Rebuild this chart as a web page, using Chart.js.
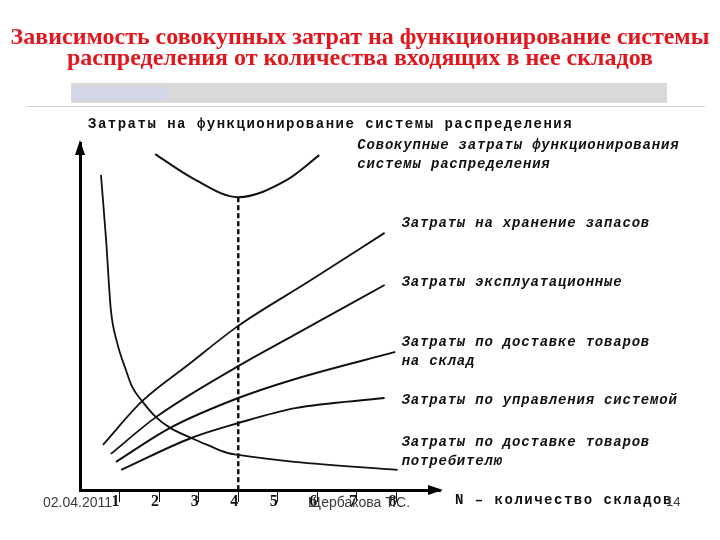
<!DOCTYPE html>
<html>
<head>
<meta charset="utf-8">
<script src="https://cdn.jsdelivr.net/npm/chart.js@4.4.0/dist/chart.umd.min.js"></script>
<style>
  html, body { margin: 0; padding: 0; background: #fff; }
  #slide { position: relative; width: 720px; height: 540px; overflow: hidden; }
  #title { position: absolute; left: 0; top: 26px; width: 720px; text-align: center;
           font: bold 24px/21px "Liberation Serif", "Times New Roman", serif; color: #e3161d; z-index: 2; }
  #bar { position: absolute; left: 71px; top: 83px; width: 596px; height: 20px; background: #d9d9d9; }
  #bar span { position: absolute; left: 2px; top: 3px; width: 93px; height: 14px; background: #d3d6e6; }
  #rule { position: absolute; left: 27px; top: 106px; width: 678px; height: 1px; background: #cfcfcf; }
  #chart { position: absolute; left: 0; top: 0; z-index: 1; }
  .foot { position: absolute; font: 14px "Liberation Sans", Arial, sans-serif; color: #3a3a3a; z-index: 3; }
</style>
</head>
<body>
<div id="slide">
  <div id="title">Зависимость совокупных затрат на функционирование системы<br>распределения от количества входящих в нее складов</div>
  <div id="bar"><span></span></div>
  <div id="rule"></div>
  <canvas id="chart" width="720" height="540"></canvas>
  <div class="foot" style="left:43px; top:494px;">02.04.2011</div>
  <div class="foot" style="left:308px; top:494px;">Щербакова Т.С.</div>
  <div class="foot" style="left:666px; top:494px; font-size:13px;">14</div>
</div>
<script>
  // N — number of warehouses (x), costs in relative units (y)
  var xTicks = [1, 2, 3, 4, 5, 6, 7, 8];

  var totalX = [1.90, 2.84, 4.0, 5.22, 6.05];
  var totalY = [96.8, 89.9, 84.4, 89.3, 96.5];

  var storageX = [0.58, 1.57, 2.76, 4.0, 5.80, 7.70];
  var storageY = [13.0, 25.6, 36.3, 47.3, 60.2, 74.1];

  var operatingX = [0.78, 1.92, 4.0, 5.42, 7.70];
  var operatingY = [10.4, 21.0, 35.7, 44.7, 59.1];

  var inboundX = [0.91, 2.28, 4.0, 5.44, 7.97];
  var inboundY = [8.1, 17.9, 26.5, 32.0, 39.8];

  var managementX = [1.04, 2.81, 4.0, 5.44, 7.70];
  var managementY = [5.8, 15.0, 19.3, 23.6, 26.5];

  var outboundX = [0.53, 0.66, 0.78, 0.94, 1.16, 1.32, 1.57, 1.92, 2.28, 2.81, 3.22, 3.72, 4.0, 5.42, 8.03];
  var outboundY = [90.8, 72.0, 51.9, 42.4, 34.6, 29.7, 25.6, 21.0, 17.9, 15.0, 13.0, 10.7, 10.1, 8.1, 5.8];

  var optimumN = 4;

  var costLabels = [
    ['Совокупные затраты функционирования', 'системы распределения'],
    ['Затраты на хранение запасов'],
    ['Затраты эксплуатационные'],
    ['Затраты по доставке товаров', 'на склад'],
    ['Затраты по управления системой'],
    ['Затраты по доставке товаров', 'потребителю']
  ];
  var yTitle = 'Затраты на функционирование системы распределения';
  var xTitle = 'N – количество складов';

  function pts(xs, ys) {
    return xs.map(function (x, i) { return { x: x, y: ys[i] }; });
  }

  function curve(data, width) {
    return {
      data: data,
      showLine: true,
      borderColor: '#111',
      borderWidth: width || 1.8,
      pointRadius: 0,
      cubicInterpolationMode: 'monotone',
      fill: false
    };
  }

  var optimumLine = {
    data: [{ x: optimumN, y: Math.min.apply(null, totalY) }, { x: optimumN, y: 0 }],
    showLine: true,
    borderColor: '#111',
    borderWidth: 2.5,
    borderDash: [5, 3],
    pointRadius: 0,
    tension: 0
  };

  // ── labels, axis titles and arrow heads ──
  var notesPlugin = {
    id: 'notes',
    afterDraw: function (chart, args, opts) {
      var ctx = chart.ctx;
      var xs = chart.scales.x, ys = chart.scales.y;
      ctx.save();
      ctx.fillStyle = '#111';
      ctx.textBaseline = 'middle';
      ctx.textAlign = 'left';

      ctx.font = 'bold italic 14px "Liberation Mono", monospace';
      if ('letterSpacing' in ctx) ctx.letterSpacing = '0.8px';
      costLabels.forEach(function (lines, i) {
        var a = opts.anchors[i];
        var px = xs.getPixelForValue(a[0]);
        var py = ys.getPixelForValue(a[1]);
        lines.forEach(function (t, j) { ctx.fillText(t, px, py + j * 19); });
      });

      ctx.font = 'bold 14px "Liberation Mono", monospace';
      if ('letterSpacing' in ctx) ctx.letterSpacing = '1.5px';
      ctx.fillText(yTitle, xs.left + 8, ys.top - 19);
      ctx.fillText(xTitle, xs.right + 15, ys.bottom + 10);

      ctx.fillStyle = '#000';
      ctx.beginPath();
      ctx.moveTo(xs.left, ys.top - 3);
      ctx.lineTo(xs.left - 5, ys.top + 12);
      ctx.lineTo(xs.left + 5, ys.top + 12);
      ctx.closePath();
      ctx.fill();
      ctx.beginPath();
      ctx.moveTo(xs.right + 3, ys.bottom);
      ctx.lineTo(xs.right - 12, ys.bottom - 5);
      ctx.lineTo(xs.right - 12, ys.bottom + 5);
      ctx.closePath();
      ctx.fill();
      ctx.restore();
    }
  };

  new Chart(document.getElementById('chart'), {
    type: 'scatter',
    data: {
      datasets: [
        curve(pts(totalX, totalY), 2),
        curve(pts(storageX, storageY)),
        curve(pts(operatingX, operatingY)),
        curve(pts(inboundX, inboundY), 2),
        curve(pts(managementX, managementY), 2),
        curve(pts(outboundX, outboundY)),
        optimumLine
      ]
    },
    options: {
      responsive: false,
      animation: false,
      layout: { padding: { top: 143, left: 80, right: 280, bottom: 28 } },
      plugins: {
        legend: { display: false },
        tooltip: { enabled: false },
        notes: {
          anchors: [[7.01, 99.4], [8.13, 76.9], [8.13, 59.7], [8.13, 42.4], [8.13, 25.9], [8.13, 13.8]]
        }
      },
      scales: {
        x: {
          type: 'linear',
          min: 0,
          max: 9.1,
          afterBuildTicks: function (s) { s.ticks = xTicks.map(function (v) { return { value: v }; }); },
          afterFit: function (s) { s.height = 22; },
          grid: { display: true, drawOnChartArea: false, drawTicks: true, tickLength: 12, color: '#111', lineWidth: 1 },
          border: { display: true, color: '#000', width: 3 },
          ticks: {
            align: 'end',
            padding: -10,
            color: '#111',
            font: { family: '"Liberation Serif", serif', size: 16, weight: 'bold' }
          }
        },
        y: {
          type: 'linear',
          min: 0,
          max: 100,
          afterFit: function (s) { s.width = 0; },
          grid: { display: false },
          border: { display: true, color: '#000', width: 3 },
          ticks: { display: false }
        }
      }
    },
    plugins: [notesPlugin]
  });
</script>
</body>
</html>
